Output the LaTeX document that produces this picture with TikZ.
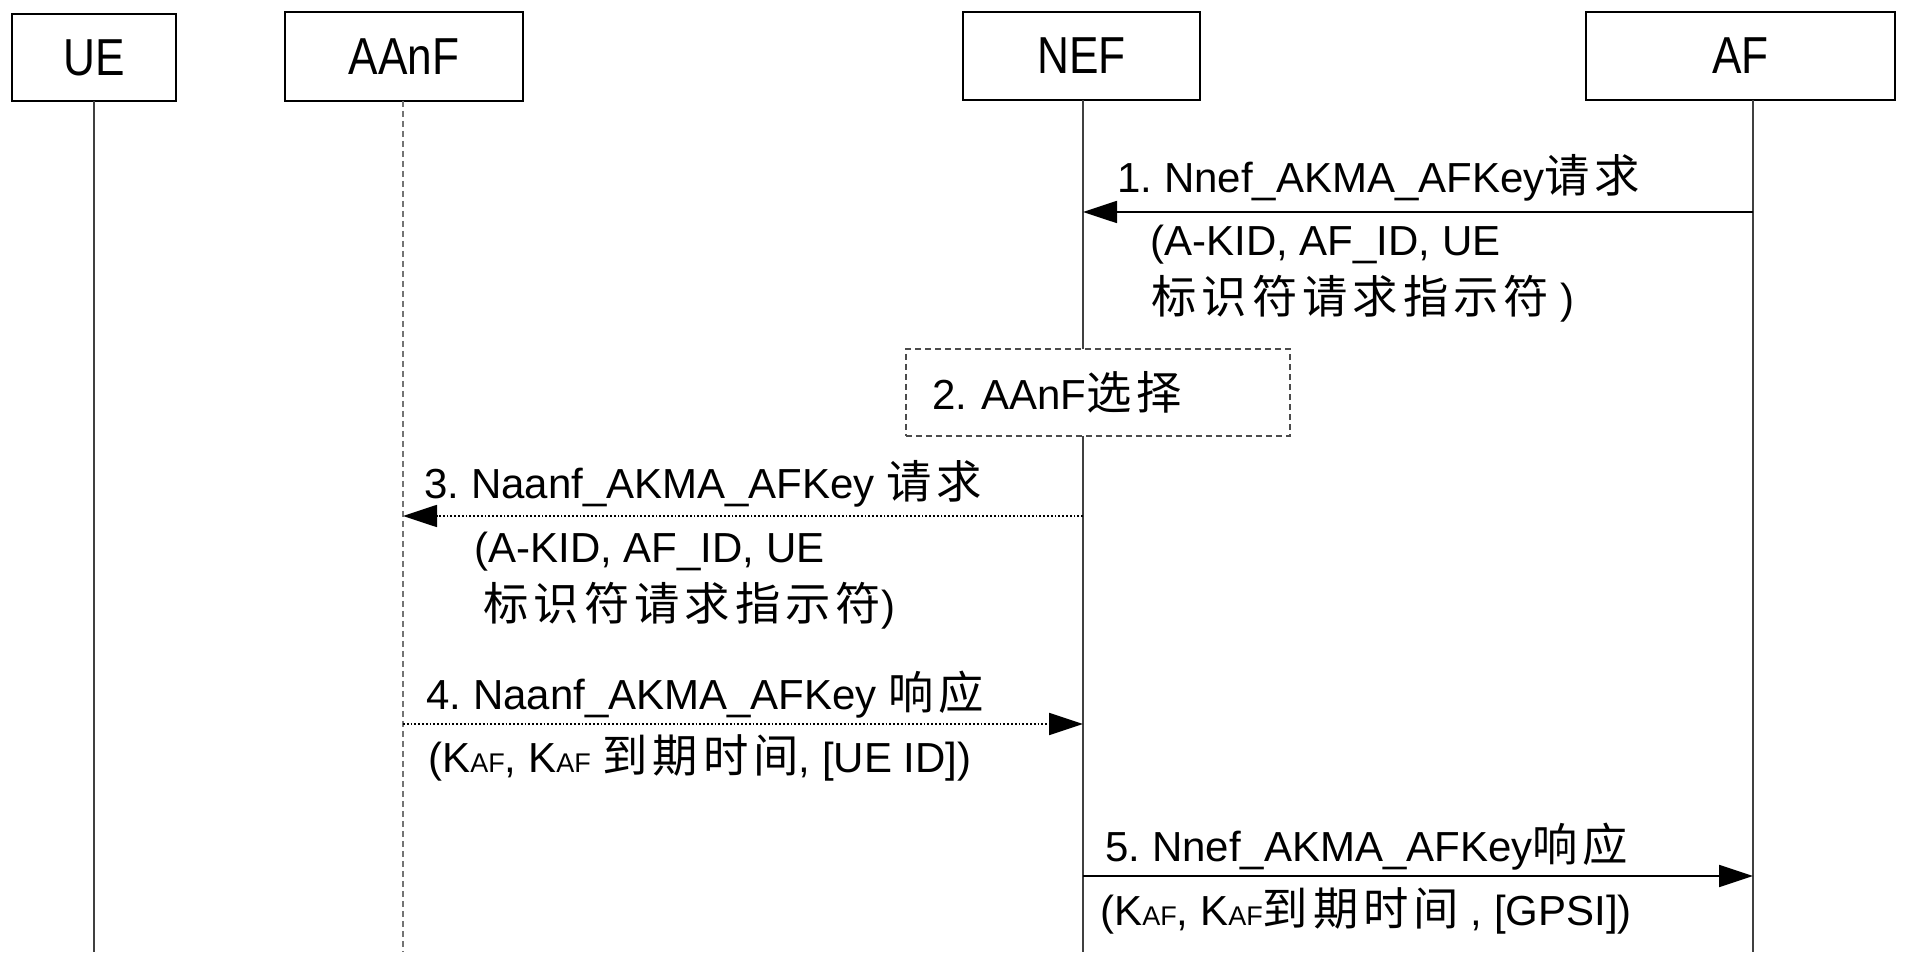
\documentclass[tikz,border=0pt]{standalone}
\usepackage{fontspec}
\setmainfont{Liberation Sans}
\newfontfamily\cjk[Scale=1.08,LetterSpace=11]{Noto Sans CJK SC}
\newfontfamily\boxfont[FakeStretch=0.85]{Liberation Sans}
\usetikzlibrary{arrows.meta}
\newcommand{\kaf}{K{\fontsize{13.5}{13.5}\selectfont AF}}
\frenchspacing
\begin{document}
\begin{tikzpicture}[x=0.5pt,y=-0.5pt,
  actor/.style={draw=black,line width=1.4pt,fill=white,inner sep=0pt,
    font=\boxfont\fontsize{26}{30}\selectfont},
  life/.style={draw=black!75,line width=0.8pt},
  msg/.style={line width=0.9pt,-{Triangle[length=17pt,width=11pt]}},
  lbl/.style={anchor=base west,inner sep=0pt,font=\fontsize{21}{25}\selectfont},
  selbox/.style={draw=black!70,densely dashed,line width=0.8pt,fill=white,
    minimum width=192pt,minimum height=43.5pt,inner xsep=13pt,
    text width=166pt,align=left,font=\fontsize{21}{25}\selectfont},
]
\useasboundingbox (0,0) rectangle (1908,962);

% actors
\node[actor,minimum width=82pt,minimum height=43.5pt] (ue) at (94,57.5) {UE};
\node[actor,minimum width=119pt,minimum height=44.5pt] (aanf) at (404,56.5) {AAnF};
\node[actor,minimum width=118.5pt,minimum height=44pt] (nef) at (1081.5,56) {NEF};
\node[actor,minimum width=154.5pt,minimum height=44pt] (af) at (1740.5,56) {AF};

% lifeline ends
\coordinate (ueT) at (94,101);   \coordinate (ueB) at (94,952);
\coordinate (aanfT) at (403,101); \coordinate (aanfB) at (403,952);
\coordinate (nefT) at (1083,100); \coordinate (nefB) at (1083,952);
\coordinate (afT) at (1753,100);  \coordinate (afB) at (1753,952);

\draw[life] (ueT) -- (ueB);
\draw[life,densely dashed,draw=black!55] (aanfT) -- (aanfB);
\draw[life] (nefT) -- (nefB);
\draw[life] (afT) -- (afB);

% 1
\coordinate (m1a) at (1753,212); \coordinate (m1b) at (1083,212);
\draw[msg] (m1a) -- (m1b);
\node[lbl] (l1a) at (1117,193) {1. Nnef\_AKMA\_AFKey{\cjk 请求}};
\node[lbl] (l1b) at (1150,256) {(A-KID, AF\_ID, UE};
\node[lbl] (l1c) at (1151,314) {{\cjk 标识符请求指示符} )};

% 2
\node[selbox] (sel) at (1098,392.5) {2. AAnF{\cjk 选择}};

% 3
\coordinate (m3a) at (1083,516); \coordinate (m3b) at (403,516);
\draw[msg,densely dotted] (m3a) -- (m3b);
\node[lbl] (l3a) at (424,499) {3. Naanf\_AKMA\_AFKey {\cjk 请求}};
\node[lbl] (l3b) at (474,563) {(A-KID, AF\_ID, UE};
\node[lbl] (l3c) at (483,621) {{\cjk 标识符请求指示符})};

% 4
\coordinate (m4a) at (403,724); \coordinate (m4b) at (1083,724);
\draw[msg,densely dotted] (m4a) -- (m4b);
\node[lbl] (l4a) at (426,710) {4. Naanf\_AKMA\_AFKey {\cjk 响应}};
\node[lbl] (l4b) at (428,772) {(\kaf, \kaf{} {\cjk 到期时间}, [UE ID])};

% 5
\coordinate (m5a) at (1083,876); \coordinate (m5b) at (1753,876);
\draw[msg] (m5a) -- (m5b);
\node[lbl] (l5a) at (1105,861) {5. Nnef\_AKMA\_AFKey{\cjk 响应}};
\node[lbl] (l5b) at (1100,925) {(\kaf, \kaf{\cjk 到期时间} , [GPSI])};
\end{tikzpicture}
\end{document}
